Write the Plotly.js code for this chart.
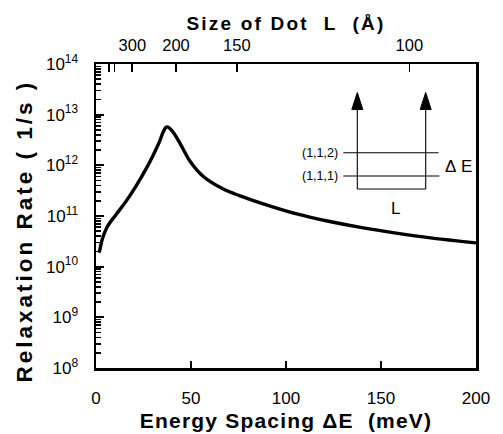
<!DOCTYPE html>
<html><head><meta charset="utf-8">
<script src="https://cdn.plot.ly/plotly-3.0.1.min.js"></script>
<style>
html,body{margin:0;padding:0;background:#fff}
.xtitle{letter-spacing:1.2px}
.x2title{letter-spacing:2.2px}
g.annotation[data-index="0"] text{letter-spacing:3px}
</style>
</head><body><div id="chart" style="width:503px;height:434px"></div>
<script>
// Data
const energySpacing = [1.5, 2.0, 3.4, 6.0, 10.4, 15.6, 20.9, 26.2, 29.7, 33.2, 35.2, 36.6, 37.6, 38.8, 41.0, 44.5, 49.5, 56.5, 67.0, 75.8, 88.0, 105.6, 123.0, 140.0, 158.0, 176.0, 200];
const relaxationRate = [1.9e10, 2.14e10, 3.6e10, 6.2e10, 1.05e11, 1.9e11, 3.8e11, 8.3e11, 1.48e12, 2.8e12, 4.4e12, 5.5e12, 5.75e12, 5.4e12, 4.3e12, 2.6e12, 1.2e12, 6.0e11, 3.4e11, 2.5e11, 1.74e11, 1.1e11, 7.8e10, 5.9e10, 4.6e10, 3.7e10, 2.95e10];
const xTickVals = [0, 50, 100, 150, 200];
const yTickVals = [1e8, 1e9, 1e10, 1e11, 1e12, 1e13, 1e14];
const yTickText = ['10<sup>8</sup>', '10<sup>9</sup>', '10<sup>10</sup>', '10<sup>11</sup>', '10<sup>12</sup>', '10<sup>13</sup>', '10<sup>14</sup>'];
const dotSizeTickPos = [6.8, 9.8, 19.1, 42.1, 74.1, 164.9];
const dotSizeTickText = ['', '', '300', '200', '150', '100'];

const minorVals = [];
for (let e = 8; e < 14; e++) for (let d = 2; d <= 9; d++) minorVals.push(d * Math.pow(10, e));

const FONT = 'Liberation Sans, Arial, Helvetica, sans-serif';
const NB = '\u00a0';
const L = 96, R = 476, T = 64, B = 368;
const px = x => (x - L) / (R - L);
const py = y => (B - y) / (B - T);

const thin = {color: '#000', width: 1.1};
const shapes = [
  {type: 'line', xref: 'paper', yref: 'paper', x0: px(357.3), x1: px(357.3), y0: py(189), y1: py(106), line: thin},
  {type: 'line', xref: 'paper', yref: 'paper', x0: px(425.7), x1: px(425.7), y0: py(189), y1: py(106), line: thin},
  {type: 'line', xref: 'paper', yref: 'paper', x0: px(357.3), x1: px(425.7), y0: py(189), y1: py(189), line: thin},
  {type: 'path', xref: 'paper', yref: 'paper', fillcolor: '#000', line: {color: '#000', width: 1},
   path: `M ${px(351.8)} ${py(109.5)} L ${px(357.3)} ${py(92.5)} L ${px(362.8)} ${py(109.5)} Z`},
  {type: 'path', xref: 'paper', yref: 'paper', fillcolor: '#000', line: {color: '#000', width: 1},
   path: `M ${px(420.2)} ${py(109.5)} L ${px(425.7)} ${py(92.5)} L ${px(431.2)} ${py(109.5)} Z`},
  {type: 'line', xref: 'paper', yref: 'paper', x0: px(343.3), x1: px(438.5), y0: py(152.7), y1: py(152.7), line: thin},
  {type: 'line', xref: 'paper', yref: 'paper', x0: px(343.3), x1: px(439.3), y0: py(176), y1: py(176), line: thin}
];
const annotations = [
  {xref: 'paper', yref: 'paper', x: px(24), y: py(231), text: 'Relaxation' + NB + 'Rate' + NB + '(' + NB + '1/s' + NB + ')', textangle: -90, showarrow: false, xanchor: 'center', yanchor: 'middle', font: {family: FONT, size: 22.5, color: '#000', weight: 'bold'}},
  {xref: 'paper', yref: 'paper', x: px(340), y: py(152.7), text: '(1,1,2)', showarrow: false, xanchor: 'right', yanchor: 'middle', font: {family: FONT, size: 12.5, color: '#000'}},
  {xref: 'paper', yref: 'paper', x: px(340), y: py(176), text: '(1,1,1)', showarrow: false, xanchor: 'right', yanchor: 'middle', font: {family: FONT, size: 12.5, color: '#000'}},
  {xref: 'paper', yref: 'paper', x: px(443), y: py(166.5), text: '\u0394' + NB + 'E', showarrow: false, xanchor: 'left', yanchor: 'middle', font: {family: FONT, size: 17, color: '#000'}},
  {xref: 'paper', yref: 'paper', x: px(395), y: py(208), text: 'L', showarrow: false, xanchor: 'center', yanchor: 'middle', font: {family: FONT, size: 17, color: '#000'}}
];

const traces = [
  {x: energySpacing, y: relaxationRate, type: 'scatter', mode: 'lines', line: {color: '#000', width: 3.4, shape: 'spline', smoothing: 1}, hoverinfo: 'skip', showlegend: false},
  {x: [0, 200], y: [1e8, 1e8], xaxis: 'x2', type: 'scatter', mode: 'lines', line: {color: 'rgba(0,0,0,0)', width: 0}, hoverinfo: 'skip', showlegend: false},
  {x: [0, 200], y: [1e8, 1e8], yaxis: 'y2', type: 'scatter', mode: 'lines', line: {color: 'rgba(0,0,0,0)', width: 0}, hoverinfo: 'skip', showlegend: false}
];

const layout = {
  width: 503, height: 434,
  margin: {l: L, r: 503 - R, t: T, b: 434 - B, pad: 0},
  paper_bgcolor: '#fff', plot_bgcolor: '#fff',
  font: {family: FONT, color: '#000'},
  showlegend: false,
  xaxis: {
    range: [0, 200], tickmode: 'array', tickvals: xTickVals, ticktext: xTickVals.map(String),
    ticks: 'inside', ticklen: 7, tickwidth: 2, tickcolor: '#000',
    showline: true, linewidth: 2.5, linecolor: '#000', mirror: false,
    showgrid: false, zeroline: false, automargin: false,
    tickfont: {family: FONT, size: 17, color: '#000'}, ticklabelstandoff: 13,
    title: {text: 'Energy' + NB + 'Spacing' + NB + '\u0394E' + NB + NB + '(meV)', font: {family: FONT, size: 21, color: '#000', weight: 'bold'}, standoff: 7}
  },
  xaxis2: {
    overlaying: 'x', side: 'top', range: [0, 200], tickmode: 'array', tickvals: dotSizeTickPos, ticktext: dotSizeTickText,
    ticks: 'inside', ticklen: 8, tickwidth: 1.6, tickcolor: '#000',
    showline: true, linewidth: 2.2, linecolor: '#000',
    showgrid: false, zeroline: false, automargin: false,
    tickfont: {family: FONT, size: 16.5, color: '#000'}, ticklabelstandoff: 4,
    title: {text: 'Size' + NB + 'of' + NB + 'Dot' + NB + NB + 'L' + NB + NB + '(\u00c5)', font: {family: FONT, size: 19, color: '#000', weight: 'bold'}, standoff: 1}
  },
  yaxis: {
    type: 'log', range: [8, 14], tickmode: 'array', tickvals: yTickVals, ticktext: yTickText,
    ticks: 'inside', ticklen: 8, tickwidth: 2.2, tickcolor: '#000',
    showline: true, linewidth: 2.5, linecolor: '#000', mirror: true,
    showgrid: false, zeroline: false, automargin: false,
    tickfont: {family: FONT, size: 17, color: '#000'}, ticklabelstandoff: 12
  },
  yaxis2: {
    overlaying: 'y', side: 'left', type: 'log', range: [8, 14], tickmode: 'array', tickvals: minorVals,
    ticks: 'inside', ticklen: 5, tickwidth: 1.6, tickcolor: '#000', showticklabels: false,
    showgrid: false, zeroline: false
  },
  shapes: shapes,
  annotations: annotations
};

Plotly.newPlot('chart', traces, layout, {displayModeBar: false, staticPlot: true});
</script>
</body></html>
